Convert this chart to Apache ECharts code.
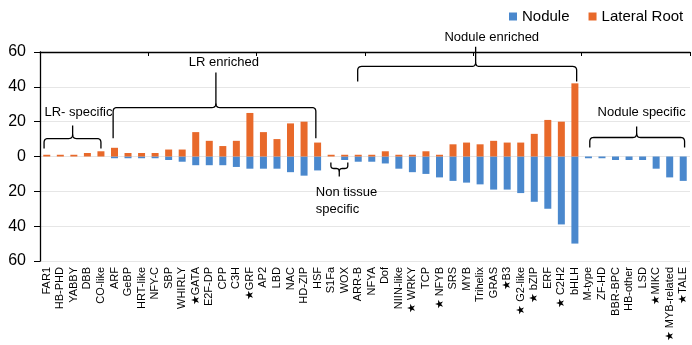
<!DOCTYPE html>
<html>
<head>
<meta charset="utf-8">
<script src="https://cdn.jsdelivr.net/npm/echarts@6/dist/echarts.min.js"></script>
<style>html,body{margin:0;padding:0;background:#fff}#c{width:692px;height:345px}</style>
</head>
<body>
<div id="c"></div>
<script>
const categories = ['FAR1','HB-PHD','YABBY','DBB','CO-like','ARF','GeBP','HRT-like','NFY-C','SBP','WHIRLY','★GATA','E2F-DP','CPP','C3H','★GRF','AP2','LBD','NAC','HD-ZIP','HSF','S1Fa','WOX','ARR-B','NFYA','Dof','NIIN-like','★ WRKY','TCP','★ NFYB','SRS','MYB','Trihelix','GRAS','★B3','★ G2-like','★ bZIP','ERF','★ C2H2','bHLH','M-type','ZF-HD','BBR-BPC','HB-other','LSD','★MIKC','★ MYB-related','★TALE'];
const lateralRoot = [1,1,1,2,3,5,2,2,2,4,4,14,9,6,9,25,14,10,19,20,8,1,1,1,1,3,1,1,3,1,7,8,7,9,8,8,13,21,20,42,0,0,0,0,0,0,0,0];
const nodule = [0,0,0,0,0,1,1,1,1,2,3,5,5,5,6,7,7,7,9,11,8,0,2,3,3,4,7,9,10,12,14,15,16,19,19,21,26,30,39,50,1,1,2,2,2,7,12,14];
const yTicks = {min:-60, max:60, interval:20};

// annotation braces, in category-index / value units
const braces = [
  {from:-0.2, to:4.0, apex:1.91, yb:10.3, tip:4.6, top:17.8, r:4},
  {from:4.9, to:19.87, apex:12.49, yb:28.1, tip:10.5, top:48.2, r:4},
  {from:20.98, to:22.23, apex:21.6, yb:-6.9, tip:-3.4, top:-11.5, r:3},
  {from:22.96, to:39.13, apex:31.67, yb:51.7, tip:43, top:63, r:4},
  {from:40.1, to:47.1, apex:43.56, yb:10.9, tip:5.2, top:17.2, r:4}
];
const notes = [
  {text:'LR- specific', i:2.34, v:25.3, align:'center'},
  {text:'LR enriched', i:13.08, v:54, align:'center'},
  {text:'Non tissue\nspecific', i:19.87, v:-25.5, align:'left'},
  {text:'Nodule enriched', i:32.86, v:68.3, align:'center'},
  {text:'Nodule specific', i:43.93, v:25.3, align:'center'}
];

const FONT = '"Liberation Sans", Arial, sans-serif';
const chart = echarts.init(document.getElementById('c'));
chart.setOption({
  animation: false,
  textStyle: {fontFamily: FONT},
  legend: {
    data: ['Nodule','Lateral Root'], left: 504, top: 4, icon: 'rect',
    itemWidth: 8, itemHeight: 8, itemGap: 19,
    textStyle: {fontSize: 15, color: '#000', fontFamily: FONT}
  },
  grid: {left: 40, right: 2, top: 52, bottom: 84},
  xAxis: [
    {type: 'category', data: categories, position: 'bottom',
     axisLine: {show: false}, axisTick: {show: false},
     axisLabel: {rotate: 90, interval: 0, fontSize: 11, margin: 6, color: '#000', fontFamily: FONT}},
    {type: 'category', data: categories, position: 'top', z: 5,
     axisLine: {show: true, onZero: true, lineStyle: {color: '#000', width: 1.3}},
     axisTick: {show: true, inside: true, length: 4, lineStyle: {color: '#000', width: 1}},
     axisLabel: {show: false}, splitLine: {show: false}}
  ],
  yAxis: {
    type: 'value', min: yTicks.min, max: yTicks.max, interval: yTicks.interval,
    axisLine: {show: true, lineStyle: {color: '#000', width: 1.3}},
    axisTick: {show: true, length: 6, lineStyle: {color: '#000'}},
    axisLabel: {formatter: v => String(Math.abs(v)), fontSize: 16, color: '#000', margin: 14, fontFamily: FONT},
    splitLine: {lineStyle: {color: '#e6e6e6', width: 1}}
  },
  series: [
    {name: 'Nodule', type: 'bar', data: nodule.map(v => -v), barWidth: 7, barGap: '-100%',
     itemStyle: {color: '#4A88CD'}},
    {name: 'Lateral Root', type: 'bar', data: lateralRoot, barWidth: 7, barGap: '-100%',
     itemStyle: {color: '#E8692A'}}
  ]
});

const x0 = chart.convertToPixel({xAxisIndex: 0}, 0);
const step = chart.convertToPixel({xAxisIndex: 0}, 1) - x0;
const X = i => x0 + i * step;
const Y = v => chart.convertToPixel({yAxisIndex: 0}, v);

function quad(p0, c, p2, out) {
  for (let k = 1; k <= 6; k++) {
    const t = k / 6, u = 1 - t;
    out.push([u*u*p0[0] + 2*u*t*c[0] + t*t*p2[0], u*u*p0[1] + 2*u*t*c[1] + t*t*p2[1]]);
  }
}
const graphics = [];
braces.forEach(b => {
  const xl = X(b.from), xr = X(b.to), xa = X(b.apex);
  const yb = Y(b.yb), yt = Y(b.tip), ya = Y(b.top), r = b.r;
  const d = Math.sign(yt - yb);
  const L = [[xl, yt], [xl, yb + d*r]];
  quad([xl, yb + d*r], [xl, yb], [xl + r, yb], L);
  L.push([xa - r, yb]);
  quad([xa - r, yb], [xa, yb], [xa, yb - d*r], L);
  L.push([xa, ya]);
  const R = [[xr, yt], [xr, yb + d*r]];
  quad([xr, yb + d*r], [xr, yb], [xr - r, yb], R);
  R.push([xa + r, yb]);
  quad([xa + r, yb], [xa, yb], [xa, yb - d*r], R);
  [L, R].forEach(pts => graphics.push({
    type: 'polyline', shape: {points: pts}, z: 10,
    style: {stroke: '#000', lineWidth: 1.3, fill: null}
  }));
});
notes.forEach(n => graphics.push({
  type: 'text', x: X(n.i), y: Y(n.v), z: 10,
  style: {text: n.text, fill: '#000', fontSize: 13, fontFamily: FONT,
          align: n.align, verticalAlign: 'middle', lineHeight: 17}
}));
chart.setOption({graphic: graphics});
</script>
</body>
</html>
